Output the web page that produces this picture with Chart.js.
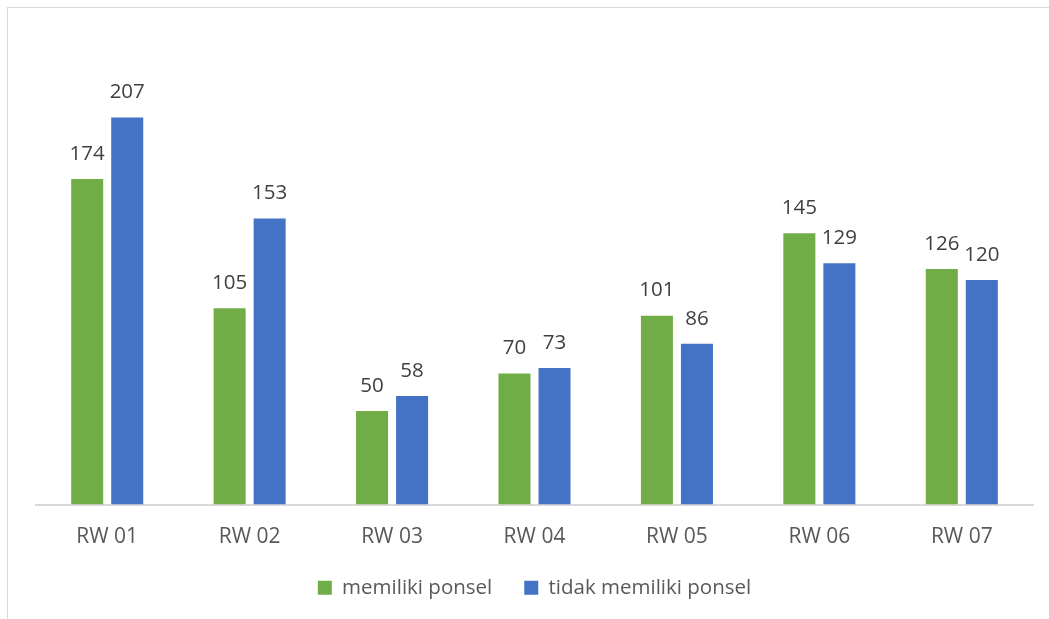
<!DOCTYPE html>
<html>
<head>
<meta charset="utf-8">
<script src="https://cdn.jsdelivr.net/npm/chart.js@4.4.1/dist/chart.umd.min.js"></script>
<style>
  html, body { margin: 0; padding: 0; background: #ffffff; }
  #frame {
    position: absolute; left: 7px; top: 7px; width: 1100px; height: 700px;
    border-left: 1px solid #d9d9d9; border-top: 1px solid #d9d9d9;
  }
  #wrap { position: absolute; left: 0; top: 0; width: 1049px; height: 619px; }
</style>
</head>
<body>
<div id="frame"></div>
<div id="wrap"><canvas id="chart" width="1049" height="619"></canvas></div>
<script>
const categories = ['RW 01', 'RW 02', 'RW 03', 'RW 04', 'RW 05', 'RW 06', 'RW 07'];
const seriesNames = ['memiliki ponsel', 'tidak memiliki ponsel'];
const memilikiPonsel = [174, 105, 50, 70, 101, 145, 126];
const tidakMemilikiPonsel = [207, 153, 58, 73, 86, 129, 120];

const FONT = '"Open Sans", "Liberation Sans", sans-serif';

// Value labels above each bar
const valueLabels = {
  id: 'valueLabels',
  afterDatasetsDraw(chart) {
    const ctx = chart.ctx;
    ctx.save();
    ctx.font = '20.5px ' + FONT;
    ctx.fillStyle = '#404040';
    ctx.textAlign = 'center';
    ctx.textBaseline = 'middle';
    chart.data.datasets.forEach((ds, i) => {
      chart.getDatasetMeta(i).data.forEach((bar, j) => {
        ctx.fillText(String(ds.data[j]), bar.x, bar.y - 25);
      });
    });
    ctx.restore();
  }
};

new Chart(document.getElementById('chart'), {
  type: 'bar',
  data: {
    labels: categories,
    datasets: [
      { label: seriesNames[0], data: memilikiPonsel, backgroundColor: '#70AD47' },
      { label: seriesNames[1], data: tidakMemilikiPonsel, backgroundColor: '#4472C4' }
    ]
  },
  options: {
    responsive: false,
    animation: false,
    devicePixelRatio: 1,
    layout: { padding: { left: 36, right: 16, top: 37, bottom: 11 } },
    datasets: { bar: { categoryPercentage: 0.562, barPercentage: 0.8 } },
    scales: {
      x: {
        grid: { display: false, drawTicks: false },
        border: { color: '#d9d9d9', width: 2 },
        ticks: { color: '#595959', font: { family: FONT, size: 21 }, padding: 20 },
        afterFit(scale) { scale.height = 41; }
      },
      y: { display: false, min: 0, max: 250 }
    },
    plugins: {
      legend: {
        position: 'bottom',
        labels: {
          color: '#595959',
          font: { family: FONT, size: 20.5 },
          boxWidth: 14, boxHeight: 14, padding: 32
        }
      },
      tooltip: { enabled: false }
    }
  },
  plugins: [valueLabels]
});
</script>
</body>
</html>
